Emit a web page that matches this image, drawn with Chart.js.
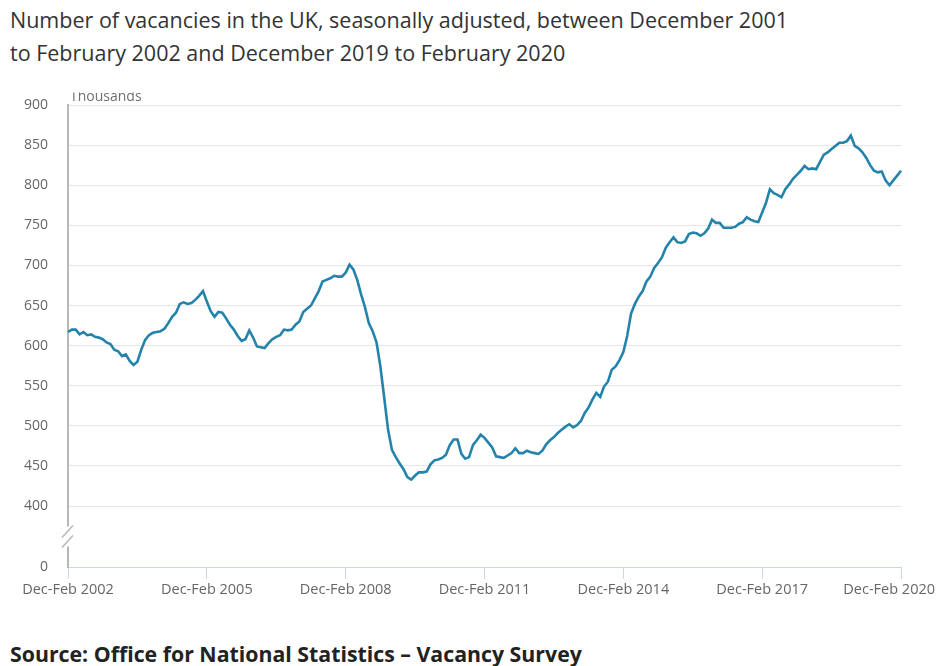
<!DOCTYPE html>
<html>
<head>
<meta charset="utf-8">
<script src="https://cdn.jsdelivr.net/npm/chart.js@4/dist/chart.umd.min.js"></script>
<style>
  html, body { margin: 0; padding: 0; background: #fff; width: 938px; height: 666px; overflow: hidden; }
  #title { position: absolute; left: 10px; top: 3px; font-family: "Open Sans", sans-serif; font-size: 21.5px; line-height: 33px; color: #333; white-space: nowrap; }
  #source { position: absolute; left: 10px; top: 639px; font-family: "Open Sans", sans-serif; font-weight: bold; font-size: 21.3px; line-height: 30px; color: #222; white-space: nowrap; }
  #wrap { position: absolute; left: 0; top: 90px; width: 938px; height: 530px; }
</style>
</head>
<body>
<div id="title">Number of vacancies in the UK, seasonally adjusted, between December 2001<br>to February 2002 and December 2019 to February 2020</div>
<div id="wrap"><canvas id="c" width="938" height="530"></canvas></div>
<div id="source">Source: Office for National Statistics – Vacancy Survey</div>
<script>
// ---- data ----
const periodNames = ['Dec-Feb','Jan-Mar','Feb-Apr','Mar-May','Apr-Jun','May-Jul','Jun-Aug','Jul-Sep','Aug-Oct','Sep-Nov','Oct-Dec','Nov-Jan'];
const startYear = 2002;
const vacancies = [
  617,620,620,614,617,613,614,611,610,608,604,602,
  595,593,587,589,581,576,580,595,607,613,616,617,
  618,621,628,636,641,652,654,652,653,657,662,668,
  655,643,636,642,641,634,626,620,612,606,608,619,
  610,599,598,597,603,608,611,613,620,619,620,626,
  630,642,646,650,659,668,680,682,684,687,686,686,
  691,701,695,682,664,648,628,618,604,574,535,495,
  470,461,453,446,436,433,438,442,442,443,452,457,
  458,460,464,476,483,483,465,459,461,476,482,489,
  485,479,473,462,461,460,463,466,472,466,466,469,
  467,466,465,469,477,482,486,491,495,499,502,498,
  501,506,516,523,533,541,536,549,555,570,574,582,
  592,612,640,652,661,668,680,686,697,703,710,722,
  729,735,729,728,730,739,741,740,737,740,746,757,
  753,753,747,747,747,748,752,754,760,757,755,754,
  766,778,795,790,788,785,795,801,808,813,818,824,
  820,821,820,829,838,841,845,849,853,853,855,862,
  849,846,841,834,825,818,816,817,806,800,806,812,818
];
const xTickLabels = ['Dec-Feb 2002','Dec-Feb 2005','Dec-Feb 2008','Dec-Feb 2011','Dec-Feb 2014','Dec-Feb 2017','Dec-Feb 2020'];
const yTickValues = [400,450,500,550,600,650,700,750,800,850,900];
const yBreakValue = 324;   // position used for the "0" label below the axis break
const yBreakLabel = '0';
const unitLabel = 'Thousands';

const labels = vacancies.map((v, i) => {
  const m = i % 12;
  const y = startYear + Math.floor(i / 12) + (m === 11 ? 1 : 0);
  return periodNames[m] + ' ' + y;
});

const FONT = '"Open Sans", sans-serif';
const LINE = '#2483ab';

const extras = {
  id: 'extras',
  beforeDraw(chart) {
    // keep last x label inside the canvas
    try {
      const xs = chart.scales.x;
      const items = xs.getLabelItems();
      const w = chart.width;
      items.forEach(it => {
        if (!it.label) return;
        const ctx = chart.ctx;
        ctx.save();
        ctx.font = it.font.string;
        const tw = ctx.measureText(it.label).width;
        ctx.restore();
        const cx = it.options.translation[0];
        if (cx + tw / 2 > w - 3) {
          it.options.translation[0] = w - 3 - tw / 2;
        }
      });
    } catch (e) {}
  },
  afterDraw(chart) {
    const ctx = chart.ctx;
    const a = chart.chartArea;
    const ys = chart.scales.y;
    // unit label (top partly hidden, as in the original)
    ctx.save();
    ctx.beginPath();
    ctx.rect(0, 2.5, chart.width, 20);
    ctx.clip();
    ctx.font = '14px ' + FONT;
    ctx.fillStyle = '#707070';
    ctx.textBaseline = 'alphabetic';
    ctx.textAlign = 'left';
    ctx.fillText(unitLabel, a.left + 2, 11);
    ctx.restore();
    // axis break
    const yb = (ys.getPixelForValue(400) + ys.getPixelForValue(yBreakValue)) / 2;
    const x = a.left;
    ctx.save();
    ctx.fillStyle = '#ffffff';
    ctx.fillRect(x - 4, yb - 10, 8, 20);
    ctx.strokeStyle = '#b8b8b8';
    ctx.lineWidth = 1.5;
    ctx.beginPath();
    ctx.moveTo(x - 6, yb + 1); ctx.lineTo(x + 5, yb - 11);
    ctx.moveTo(x - 6, yb + 11); ctx.lineTo(x + 5, yb - 1);
    ctx.stroke();
    ctx.restore();
  }
};

new Chart(document.getElementById('c'), {
  type: 'line',
  data: {
    labels: labels,
    datasets: [{
      data: vacancies,
      borderColor: LINE,
      borderWidth: 2.6,
      pointRadius: 0,
      tension: 0,
      fill: false
    }]
  },
  options: {
    responsive: false,
    animation: false,
    events: [],
    layout: { padding: { top: 15, right: 37, left: 0, bottom: 0 } },
    plugins: { legend: { display: false }, tooltip: { enabled: false }, title: { display: false } },
    scales: {
      x: {
        type: 'category',
        grid: {
          drawOnChartArea: false,
          drawTicks: true,
          tickLength: 12,
          color: (c) => (c.tick && xTickLabels.includes(c.tick.label) ? '#ccd6eb' : 'rgba(0,0,0,0)'),
          lineWidth: 1
        },
        border: { display: true, color: '#ccd6eb', width: 1 },
        ticks: {
          autoSkip: false,
          maxRotation: 0,
          minRotation: 0,
          padding: 2,
          color: '#666666',
          font: { family: FONT, size: 14.5 },
          callback: function (val, idx) {
            const l = this.getLabelForValue(val);
            return xTickLabels.includes(l) ? l : '';
          }
        },
        afterFit(s) { s.height = 53; s.paddingLeft = 0; s.paddingRight = 0; }
      },
      y: {
        type: 'linear',
        min: yBreakValue,
        max: 900,
        afterBuildTicks(s) {
          s.ticks = [yBreakValue].concat(yTickValues).map(v => ({ value: v }));
        },
        grid: {
          drawTicks: false,
          color: (c) => (c.tick && c.tick.value === yBreakValue ? 'rgba(0,0,0,0)' : '#e6e6e6'),
          lineWidth: 1
        },
        border: { display: true, color: '#b8b8b8', width: 2 },
        ticks: {
          padding: 20,
          color: '#666666',
          font: { family: FONT, size: 14 },
          callback: (v) => (v === yBreakValue ? yBreakLabel : String(v))
        },
        afterFit(s) { s.width = 68; s.paddingTop = 0; s.paddingBottom = 0; }
      }
    }
  },
  plugins: [extras]
});
</script>
</body>
</html>
